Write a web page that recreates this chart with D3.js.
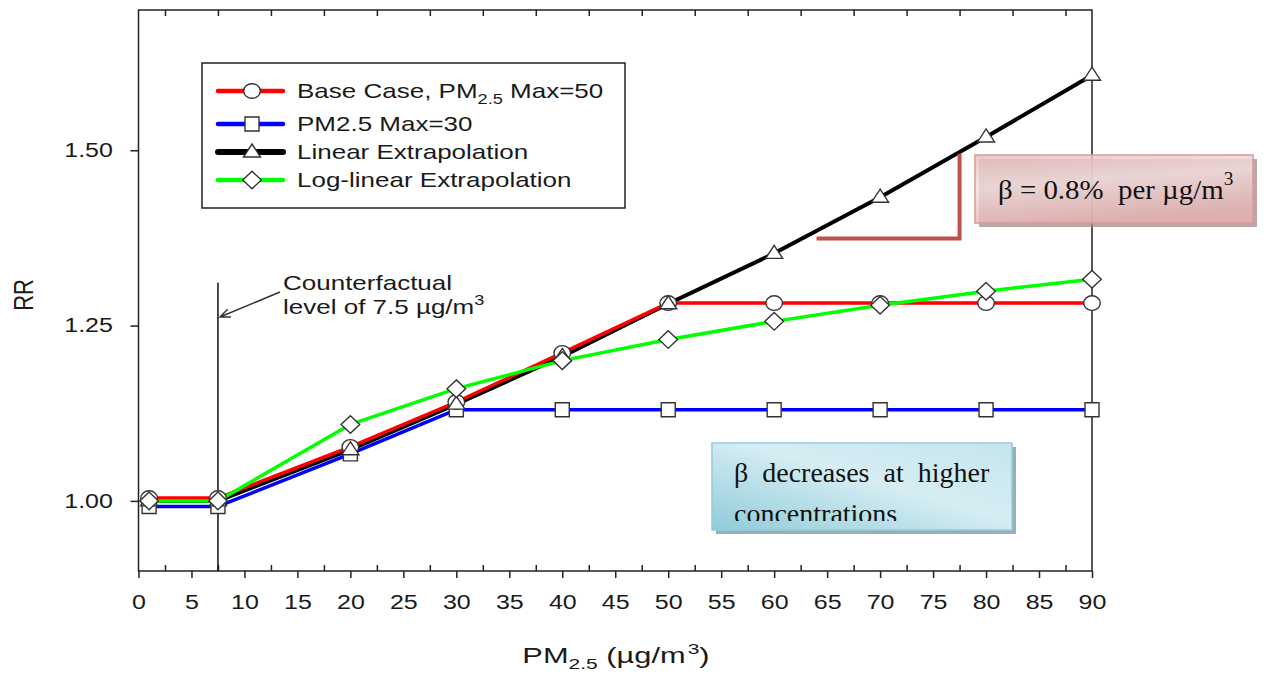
<!DOCTYPE html>
<html>
<head>
<meta charset="utf-8">
<script src="https://cdn.jsdelivr.net/npm/d3@7/dist/d3.min.js"></script>
<style>
  body { margin: 0; background: #fff; }
  text { font-family: Arial, "Liberation Sans", sans-serif; fill: #1a1a1a; }
  .serif { font-family: "Times New Roman", "Liberation Serif", serif; fill: #111; }
</style>
</head>
<body>
<div id="chart"></div>
<script>
// values
var pm = [1, 7.5, 20, 30, 40, 50, 60, 70, 80, 90];
var baseCase = [1.004, 1.004, 1.077, 1.141, 1.211, 1.282, 1.282, 1.282, 1.282, 1.282];
var max30 = [0.992, 0.992, 1.067, 1.130, 1.130, 1.130, 1.130, 1.130, 1.130, 1.130];
var linearEx = [1.000, 1.000, 1.073, 1.138, 1.206, 1.281, 1.353, 1.433, 1.519, 1.607];
var logLinear = [1.000, 1.000, 1.109, 1.160, 1.200, 1.230, 1.256, 1.279, 1.299, 1.316];

var seriesNames = ["Base Case, PM", "PM2.5 Max=30", "Linear Extrapolation", "Log-linear Extrapolation"];
var xTicks = d3.range(0, 91, 5);
var xMinor = d3.range(2.5, 90, 5);
var yTicks = [1.00, 1.25, 1.50];
var counterfactual = 7.5;

var SX = 1.25; // the original is stretched sideways
var SXT = 1.3;  // a bit more for the legend and notes

var width = 1264, height = 675;

var svg = d3.select("#chart").append("svg")
  .attr("width", width)
  .attr("height", height);

svg.append("rect").attr("width", width).attr("height", height).attr("fill", "#fff");

var x = d3.scaleLinear().domain([0, 90]).range([138.5, 1092]);
var y = d3.scaleLinear().domain([0.9, 1.7]).range([571, 10]);

var defs = svg.append("defs");

var pink = defs.append("linearGradient").attr("id", "pinkGrad")
  .attr("x1", 0).attr("y1", 0).attr("x2", 0.3).attr("y2", 1);
pink.append("stop").attr("offset", "0%").attr("stop-color", "#e7bdbc");
pink.append("stop").attr("offset", "45%").attr("stop-color", "#f3dfdf");
pink.append("stop").attr("offset", "100%").attr("stop-color", "#e3b3b2");

var blue = defs.append("linearGradient").attr("id", "blueGrad")
  .attr("x1", 0).attr("y1", 1).attr("x2", 1).attr("y2", 0);
blue.append("stop").attr("offset", "0%").attr("stop-color", "#8fcbd9");
blue.append("stop").attr("offset", "55%").attr("stop-color", "#d6edf3");
blue.append("stop").attr("offset", "100%").attr("stop-color", "#c4e5ee");

defs.append("clipPath").attr("id", "blueClip")
  .append("rect").attr("x", 712).attr("y", 443).attr("width", 300).attr("height", 78);

// axes
var axisColor = "#222";

var bottom = svg.append("g")
  .attr("transform", "translate(0," + y(0.9) + ")")
  .call(d3.axisBottom(x).tickValues(xTicks).tickSize(7).tickSizeOuter(0).tickPadding(17));
bottom.selectAll("text")
  .style("font-size", "20px")
  .attr("transform", "scale(" + SX + ",1)");

svg.append("g")
  .attr("transform", "translate(0," + y(0.9) + ")")
  .call(d3.axisBottom(x).tickValues(xMinor).tickSize(-6).tickSizeOuter(0).tickFormat(""));

svg.append("g")
  .attr("transform", "translate(0," + y(1.7) + ")")
  .call(d3.axisTop(x).tickValues(xMinor).tickSize(-6).tickSizeOuter(0).tickFormat(""));

var left = svg.append("g")
  .attr("transform", "translate(" + x(0) + ",0)")
  .call(d3.axisLeft(y).tickValues(yTicks).tickSize(8).tickSizeOuter(0).tickFormat(d3.format(".2f")));
left.selectAll("text")
  .style("font-size", "20px")
  .attr("x", -20.5)
  .attr("transform", "scale(" + SX + ",1)");

svg.selectAll(".domain").remove();
svg.selectAll(".tick line").attr("stroke", axisColor).attr("stroke-width", 1.5);

svg.append("rect")
  .attr("x", x(0)).attr("y", y(1.7))
  .attr("width", x(90) - x(0)).attr("height", y(0.9) - y(1.7))
  .attr("fill", "none").attr("stroke", axisColor).attr("stroke-width", 1.5);

// axis titles
var xt = svg.append("g").attr("transform", "translate(616,663) scale(1.4,1)")
  .append("text").attr("text-anchor", "middle").style("font-size", "22px");
xt.append("tspan").text("PM");
xt.append("tspan").attr("dy", 6).style("font-size", "15px").text("2.5");
xt.append("tspan").attr("dy", -6).text(" (\u00b5g/m");
xt.append("tspan").attr("dy", -9).attr("dx", 1.5).style("font-size", "15px").text("3");
xt.append("tspan").attr("dy", 9).text(")");

svg.append("g").attr("transform", "translate(33,295) scale(" + SX + ",1) rotate(-90)")
  .append("text").attr("text-anchor", "middle").style("font-size", "22px").text("RR");

// counterfactual marker line and note
svg.append("line")
  .attr("x1", x(counterfactual)).attr("x2", x(counterfactual))
  .attr("y1", y(1.311)).attr("y2", y(0.9))
  .attr("stroke", "#111").attr("stroke-width", 1.5);

var tipX = x(counterfactual) + 2, tipY = 317, tailX = 280, tailY = 292;
var ang = Math.atan2(tailY - tipY, tailX - tipX);
svg.append("path")
  .attr("d", "M" + tailX + "," + tailY + "L" + tipX + "," + tipY +
    "M" + (tipX + 11 * Math.cos(ang - 0.4)) + "," + (tipY + 11 * Math.sin(ang - 0.4)) +
    "L" + tipX + "," + tipY +
    "L" + (tipX + 11 * Math.cos(ang + 0.4)) + "," + (tipY + 11 * Math.sin(ang + 0.4)))
  .attr("fill", "none").attr("stroke", "#333").attr("stroke-width", 1.5);

var note = svg.append("g").attr("transform", "translate(283,290) scale(" + SXT + ",1)")
  .append("text").style("font-size", "20px");
note.append("tspan").attr("x", 0).text("Counterfactual");
note.append("tspan").attr("x", 0).attr("dy", 24).text("level of 7.5 \u00b5g/m");
note.append("tspan").attr("dy", -9).style("font-size", "14px").text("3");

// series
var series = [
  { name: seriesNames[0], values: baseCase, color: "#ff0000", width: 3.5, marker: "circle" },
  { name: seriesNames[1], values: max30, color: "#0000ff", width: 3.5, marker: "square" },
  { name: seriesNames[2], values: linearEx, color: "#000000", width: 4, marker: "triangle" },
  { name: seriesNames[3], values: logLinear, color: "#00ff00", width: 3.5, marker: "diamond" }
];

var markerPath = {
  circle: "M-8.3,0A8.3,7.3 0 1,0 8.3,0A8.3,7.3 0 1,0 -8.3,0Z",
  square: "M-7,-7H7V7H-7Z",
  triangle: "M0,-8L8.5,5H-8.5Z",
  diamond: "M0,-8.8L9.3,0L0,8.8L-9.3,0Z"
};

var line = d3.line()
  .x(function(d, i) { return x(pm[i]); })
  .y(function(d) { return y(d); });

var lineOrder = [2, 1, 0, 3];
lineOrder.forEach(function(k) {
  var s = series[k];
  svg.append("path")
    .attr("d", line(s.values))
    .attr("fill", "none")
    .attr("stroke", s.color)
    .attr("stroke-width", s.width)
    .attr("stroke-linejoin", "round");
});

var markerOrder = [1, 0, 2, 3];
markerOrder.forEach(function(k) {
  var s = series[k];
  svg.append("g").selectAll("path")
    .data(s.values)
    .enter().append("path")
    .attr("d", markerPath[s.marker])
    .attr("transform", function(d, i) { return "translate(" + x(pm[i]) + "," + y(d) + ")"; })
    .attr("fill", "#fff")
    .attr("stroke", "#333")
    .attr("stroke-width", 1.4);
});

// legend
var legend = svg.append("g");
legend.append("rect")
  .attr("x", 202).attr("y", 63).attr("width", 423).attr("height", 145)
  .attr("fill", "#fff").attr("stroke", "#222").attr("stroke-width", 1.5);

var rowY = [91, 124, 152, 180];
series.forEach(function(s, i) {
  var g = legend.append("g").attr("transform", "translate(0," + rowY[i] + ")");
  g.append("line")
    .attr("x1", 218).attr("x2", 283)
    .attr("stroke", s.color)
    .attr("stroke-width", s.marker === "triangle" ? 6 : 4.5)
    .attr("stroke-linecap", "round");
  g.append("path")
    .attr("d", markerPath[s.marker])
    .attr("transform", "translate(252,0)")
    .attr("fill", "#fff").attr("stroke", "#333").attr("stroke-width", 1.4);
  var t = g.append("g").attr("transform", "translate(297,7) scale(" + SXT + ",1)")
    .append("text").style("font-size", "20px");
  t.append("tspan").text(s.name);
  if (i === 0) {
    t.append("tspan").attr("dy", 6).style("font-size", "14px").text("2.5");
    t.append("tspan").attr("dy", -6).text(" Max=50");
  }
});

// slope bracket
svg.append("path")
  .attr("d", "M" + x(64) + "," + y(1.374) + "H" + x(77.5) + "V" + y(1.495))
  .attr("fill", "none").attr("stroke", "#c0504d").attr("stroke-width", 4);

// pink callout
svg.append("rect")
  .attr("x", 979).attr("y", 159).attr("width", 278).attr("height", 68)
  .attr("fill", "#a88584").attr("opacity", 0.75);
svg.append("rect")
  .attr("x", 975).attr("y", 155).attr("width", 278).attr("height", 68)
  .attr("fill", "url(#pinkGrad)").attr("fill-opacity", 0.82)
  .attr("stroke", "#d89a98").attr("stroke-width", 1.5);
var bt = svg.append("g").attr("transform", "translate(998,199) scale(1.07,1)")
  .append("text").attr("class", "serif").style("font-size", "27px");
bt.append("tspan").text("\u03b2 = 0.8%\u00a0 per \u00b5g/m");
bt.append("tspan").attr("dy", -14).style("font-size", "18px").text("3");

// blue callout
svg.append("rect")
  .attr("x", 716).attr("y", 447).attr("width", 300).attr("height", 87)
  .attr("fill", "#7f9ba5").attr("opacity", 0.8);
svg.append("rect")
  .attr("x", 712).attr("y", 443).attr("width", 300).attr("height", 87)
  .attr("fill", "url(#blueGrad)")
  .attr("stroke", "#93cddd").attr("stroke-width", 1.5);
var bl = svg.append("text").attr("class", "serif")
  .attr("clip-path", "url(#blueClip)")
  .style("font-size", "28px");
bl.append("tspan").attr("x", 734).attr("y", 482).style("word-spacing", "7px").text("\u03b2 decreases at higher");
bl.append("tspan").attr("x", 734).attr("y", 523).text("concentrations");
</script>
</body>
</html>
